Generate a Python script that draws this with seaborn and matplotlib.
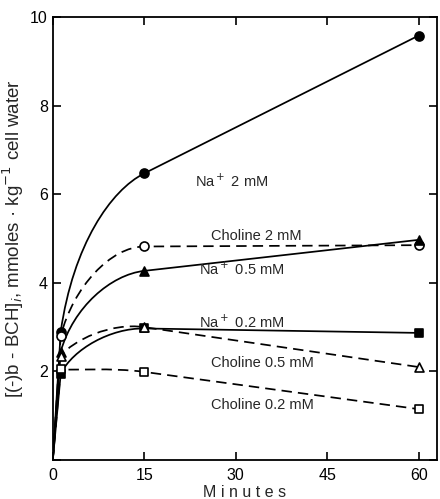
import matplotlib
matplotlib.use("Agg")
import matplotlib.pyplot as plt
import pandas as pd
import seaborn as sns
from matplotlib.patches import PathPatch
from matplotlib.path import Path

# Sample times (minutes); every curve starts at the origin
times = [0, 1.3, 15, 60]

na_2mm = [0, 2.9, 6.47, 9.58]
choline_2mm = [0, 2.8, 4.82, 4.85]
na_05mm = [0, 2.45, 4.27, 4.97]
na_02mm = [0, 1.95, 2.97, 2.87]
choline_05mm = [0, 2.35, 3.0, 2.1]
choline_02mm = [0, 2.05, 1.99, 1.15]

series_names = ["Na 2", "Choline 2", "Na 0.5", "Na 0.2", "Choline 0.5", "Choline 0.2"]
series_values = [na_2mm, choline_2mm, na_05mm, na_02mm, choline_05mm, choline_02mm]
label_texts = [
    "Na$^+$ 2 mM",
    "Choline 2 mM",
    "Na$^+$ 0.5 mM",
    "Na$^+$ 0.2 mM",
    "Choline 0.5 mM",
    "Choline 0.2 mM",
]
label_pos = [(23.3, 6.3), (26, 5.05), (24, 4.3), (24, 3.1), (26, 2.2), (26, 1.25)]

# marker, filled?, dashed?
styles = {
    "Na 2": ("o", True, False),
    "Choline 2": ("o", False, True),
    "Na 0.5": ("^", True, False),
    "Na 0.2": ("s", True, False),
    "Choline 0.5": ("^", False, True),
    "Choline 0.2": ("s", False, True),
}
marker_size = {"o": 42, "^": 42, "s": 26}

sns.set_theme(style="ticks")
plt.rcParams["font.family"] = ["Liberation Sans", "DejaVu Sans"]

fig = plt.figure(figsize=(4.4, 4.99), dpi=100)
ax = fig.add_axes([0.12, 0.078, 0.873, 0.888])

for name, vals in zip(series_names, series_values):
    marker, filled, dashed = styles[name]
    t0, t1, t2, t3 = times
    y0, y1, y2, y3 = vals
    dt = t2 - t1
    dy = y2 - y1
    slope_next = (y3 - y2) / (t3 - t2)
    # smooth rise between the first sample and 15 min, straight afterwards
    verts = [
        (t0, y0),
        (t1, y1),
        (t1 + 0.15 * dt, y1 + 0.55 * dy),
        (t2 - 0.4 * dt, y2 - 0.4 * dt * slope_next),
        (t2, y2),
        (t3, y3),
    ]
    codes = [Path.MOVETO, Path.LINETO, Path.CURVE4, Path.CURVE4, Path.CURVE4, Path.LINETO]
    patch = PathPatch(
        Path(verts, codes),
        facecolor="none",
        edgecolor="black",
        lw=1.25,
        linestyle=(0, (6, 3.5)) if dashed else "-",
        zorder=2,
    )
    ax.add_patch(patch)

    df = pd.DataFrame({"t": times[1:], "y": vals[1:]})
    sns.scatterplot(
        data=df,
        x="t",
        y="y",
        marker=marker,
        s=marker_size[marker],
        color="black" if filled else "white",
        edgecolor="black",
        linewidth=1.2,
        ax=ax,
        zorder=3,
    )

for txt, (x, y) in zip(label_texts, label_pos):
    ax.text(x, y, txt, fontsize=10.5, ha="left", va="center")

ax.set_xlim(0, 63)
ax.set_ylim(0, 10)
ax.set_xticks([0, 15, 30, 45, 60])
ax.set_yticks([0, 2, 4, 6, 8, 10])
ax.set_yticklabels(["", "2", "4", "6", "8", "10"])
ax.tick_params(direction="in", length=6, width=1.2, top=True, right=True,
               labelsize=11.5, colors="black")
ax.tick_params(axis="x", pad=6)
for sp in ax.spines.values():
    sp.set_linewidth(1.3)
    sp.set_color("black")

ax.set_xlabel("M i n u t e s", fontsize=11.5, labelpad=1)
ax.set_ylabel("[(-)b - BCH]$_i$, mmoles · kg$^{-1}$ cell water", fontsize=13.5, labelpad=3)

fig.savefig("out.png", dpi=100)
